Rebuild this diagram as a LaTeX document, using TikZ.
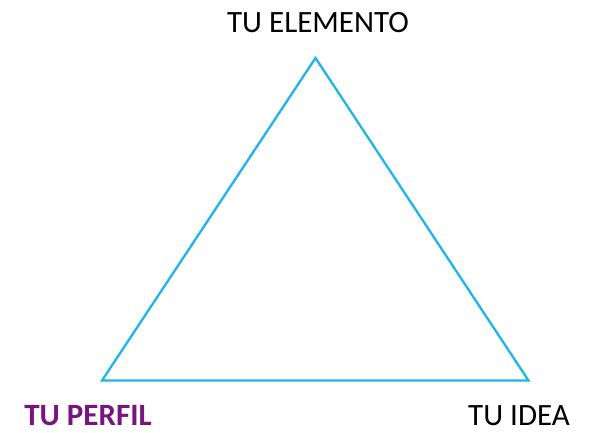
\documentclass[tikz,border=0pt]{standalone}
\usepackage{fontspec}
\setmainfont{Carlito}
\definecolor{tricyan}{HTML}{1EB4EC}
\definecolor{labpurple}{HTML}{781480}
\begin{document}
\begin{tikzpicture}[x=1bp,y=-1bp,
  edge/.style={draw=tricyan,line width=2.3bp,line join=miter},
  lab/.style={font=\fontsize{31bp}{36bp}\selectfont,anchor=base,inner sep=0pt}]
\useasboundingbox[fill=white] (0,0) rectangle (595,432);
\coordinate (top) at (315.5,58);
\coordinate (bl) at (102,380.5);
\coordinate (br) at (528.5,380.5);
\draw[edge] (top) -- (bl) -- (br) -- cycle;
\node[lab] (elemento) at (318,32) {TU ELEMENTO};
\node[lab,text=labpurple,font=\fontsize{31bp}{36bp}\selectfont\bfseries] (perfil) at (88,425) {TU PERFIL};
\node[lab] (idea) at (519,425) {TU IDEA};
\end{tikzpicture}
\end{document}
